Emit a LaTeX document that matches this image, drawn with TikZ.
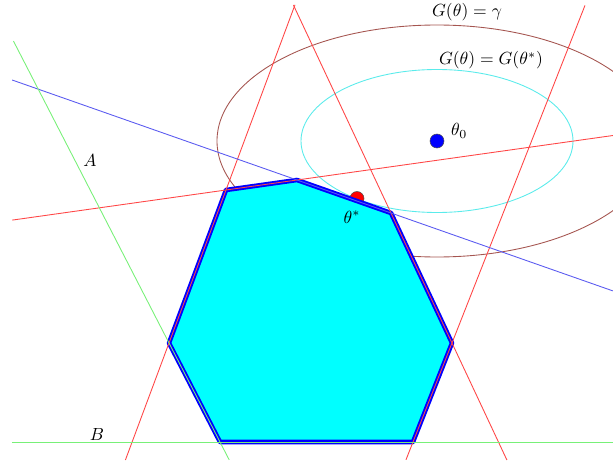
\documentclass[tikz,border=0pt]{standalone}
\usetikzlibrary{calc}
\definecolor{cutred}{RGB}{255,70,70}
\definecolor{cutgreen}{RGB}{120,240,120}
\definecolor{cutblue}{RGB}{90,90,240}
\definecolor{levelbrown}{RGB}{165,85,80}
\definecolor{levelcyan}{RGB}{90,235,235}
\definecolor{feascyan}{RGB}{0,255,255}

\begin{document}
\begin{tikzpicture}[x=0.02cm, y=-0.02cm,
    cut/.style={line width=0.5pt},
    level/.style={line width=0.5pt}]
  \useasboundingbox (0,0) rectangle (613,463);

  % Feasible polygon corners
  \coordinate (p1) at (226,190);
  \coordinate (p2) at (297,180);
  \coordinate (p3) at (391,213);
  \coordinate (p4) at (452,343);
  \coordinate (p5) at (413,442);
  \coordinate (p6) at (220,442);
  \coordinate (p7) at (169,343);

  % Level sets
  \coordinate (theta0) at (437,141);
  \draw[level, levelbrown] (theta0) ellipse [x radius=220, y radius=116];
  \draw[level, levelcyan] (theta0) ellipse [x radius=136, y radius=71.5];

  % Optimum
  \fill[red, draw=black!70, line width=0.3pt] (357,198.5) circle [radius=7];

  % Polygon
  \filldraw[fill=feascyan, draw=blue, line width=2.6pt, line join=round]
    (p1) -- (p2) -- (p3) -- (p4) -- (p5) -- (p6) -- (p7) -- cycle;

  % Constraint lines
  \draw[cut, cutred] ($(p1)!-3.01!(p2)$) -- ($(p1)!5.45!(p2)$);
  \draw[cut, cutred] ($(p3)!-1.6!(p4)$) -- ($(p3)!1.9!(p4)$);
  \draw[cut, cutred] ($(p1)!-1.21!(p7)$) -- ($(p1)!1.765!(p7)$);
  \draw[cut, cutred] ($(p4)!-3.41!(p5)$) -- ($(p4)!1.18!(p5)$);
  \draw[cut, cutblue] ($(p2)!-3.03!(p3)$) -- ($(p2)!3.36!(p3)$);
  \draw[cut, cutgreen] ($(p7)!-3.05!(p6)$) -- ($(p7)!1.18!(p6)$);
  \draw[cut, cutgreen] ($(p6)!-1.078!(p5)$) -- ($(p6)!2.036!(p5)$);

  % Centre point
  \fill[blue, draw=black!70, line width=0.3pt] (theta0) circle [radius=7];

  % Labels
  \node[anchor=west] (lab0) at (445,131) {$\theta_0$};
  \node (labstar) at (352,217) {$\theta^*$};
  \node (labgamma) at (467,12) {$G(\theta) = \gamma$};
  \node (labstarlev) at (491,60) {$G(\theta) = G(\theta^*)$};
  \node (labA) at (90,160) {$A$};
  \node (labB) at (97,434) {$B$};
\end{tikzpicture}
\end{document}
